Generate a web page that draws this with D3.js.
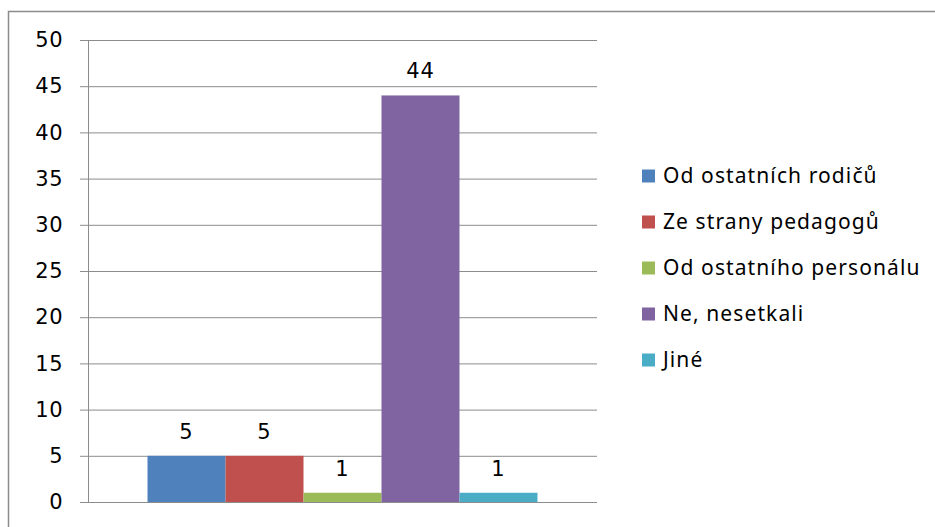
<!DOCTYPE html>
<html><head><meta charset="utf-8">
<script src="https://cdn.jsdelivr.net/npm/d3@7"></script>
<style>body{margin:0;background:#fff;} svg{display:block;}</style>
</head><body>
<svg id="c" width="935" height="527"></svg>
<script>
(function(){
const categories = [""];
const seriesNames = ["Od ostatních rodičů","Ze strany pedagogů","Od ostatního personálu","Ne, nesetkali","Jiné"];
const seriesValues = [5,5,1,44,1];
const seriesColors = ["#4F81BD","#C0504D","#9BBB59","#8064A2","#4BACC6"];
const yTicks = [0,5,10,15,20,25,30,35,40,45,50];

const svg = d3.select("#c");
const font = "'Noto Sans', 'DejaVu Sans', sans-serif";
const numFont = "'DejaVu Sans', sans-serif";

// outer frame
svg.append("rect").attr("x",8.5).attr("y",11.5).attr("width",1000).attr("height",1000)
  .attr("fill","#fff").attr("stroke","#8c8c8c").attr("stroke-width",1.5);

const pLeft=88, pRight=597, pTop=40, pBottom=502;
const y = d3.scaleLinear().domain([0,50]).range([pBottom, pTop]);
const x0 = d3.scaleBand().domain(categories).range([pLeft,pRight]).padding(0);
const x1 = d3.scaleBand().domain(seriesNames).range([0, x0.bandwidth()]).paddingInner(0).paddingOuter(0.763);

// gridlines + ticks
const yAxis = d3.axisLeft(y).tickValues(yTicks).tickSize(-(pRight-pLeft)).tickPadding(25).tickSizeOuter(0);
const ga = svg.append("g").attr("transform",`translate(${pLeft},0)`).call(yAxis);
ga.select(".domain").remove();
ga.selectAll(".tick line").attr("stroke","#8c8c8c").attr("x1",-8);
ga.selectAll(".tick text").attr("font-family",numFont).attr("font-size",21).attr("fill","#000").attr("letter-spacing",0.5);
svg.append("line").attr("x1",pLeft+0.5).attr("x2",pLeft+0.5).attr("y1",pTop).attr("y2",pBottom)
  .attr("stroke","#8c8c8c");

// bars
const g = svg.append("g");
categories.forEach(cat=>{
  seriesNames.forEach((s,i)=>{
    const bx = x0(cat)+x1(s);
    g.append("rect").attr("x",bx).attr("y",y(seriesValues[i]))
      .attr("width",x1.bandwidth()).attr("height",y(0)-y(seriesValues[i]))
      .attr("fill",seriesColors[i]);
    g.append("text").attr("x",bx+x1.bandwidth()/2).attr("y",y(seriesValues[i])-17)
      .attr("text-anchor","middle").attr("font-family",numFont).attr("font-size",21)
      .attr("letter-spacing",1).attr("fill","#000").text(seriesValues[i]);
  });
});

// legend
const lg = svg.append("g");
seriesNames.forEach((s,i)=>{
  const cy = 176 + i*46;
  lg.append("rect").attr("x",642).attr("y",cy-6.5).attr("width",13).attr("height",13).attr("fill",seriesColors[i]);
  lg.append("text").attr("x",663).attr("y",cy).attr("dy","0.35em")
    .attr("font-family",font).attr("font-size",21).attr("letter-spacing",1.1).attr("fill","#000").text(s);
});
})();
</script>
</body></html>
